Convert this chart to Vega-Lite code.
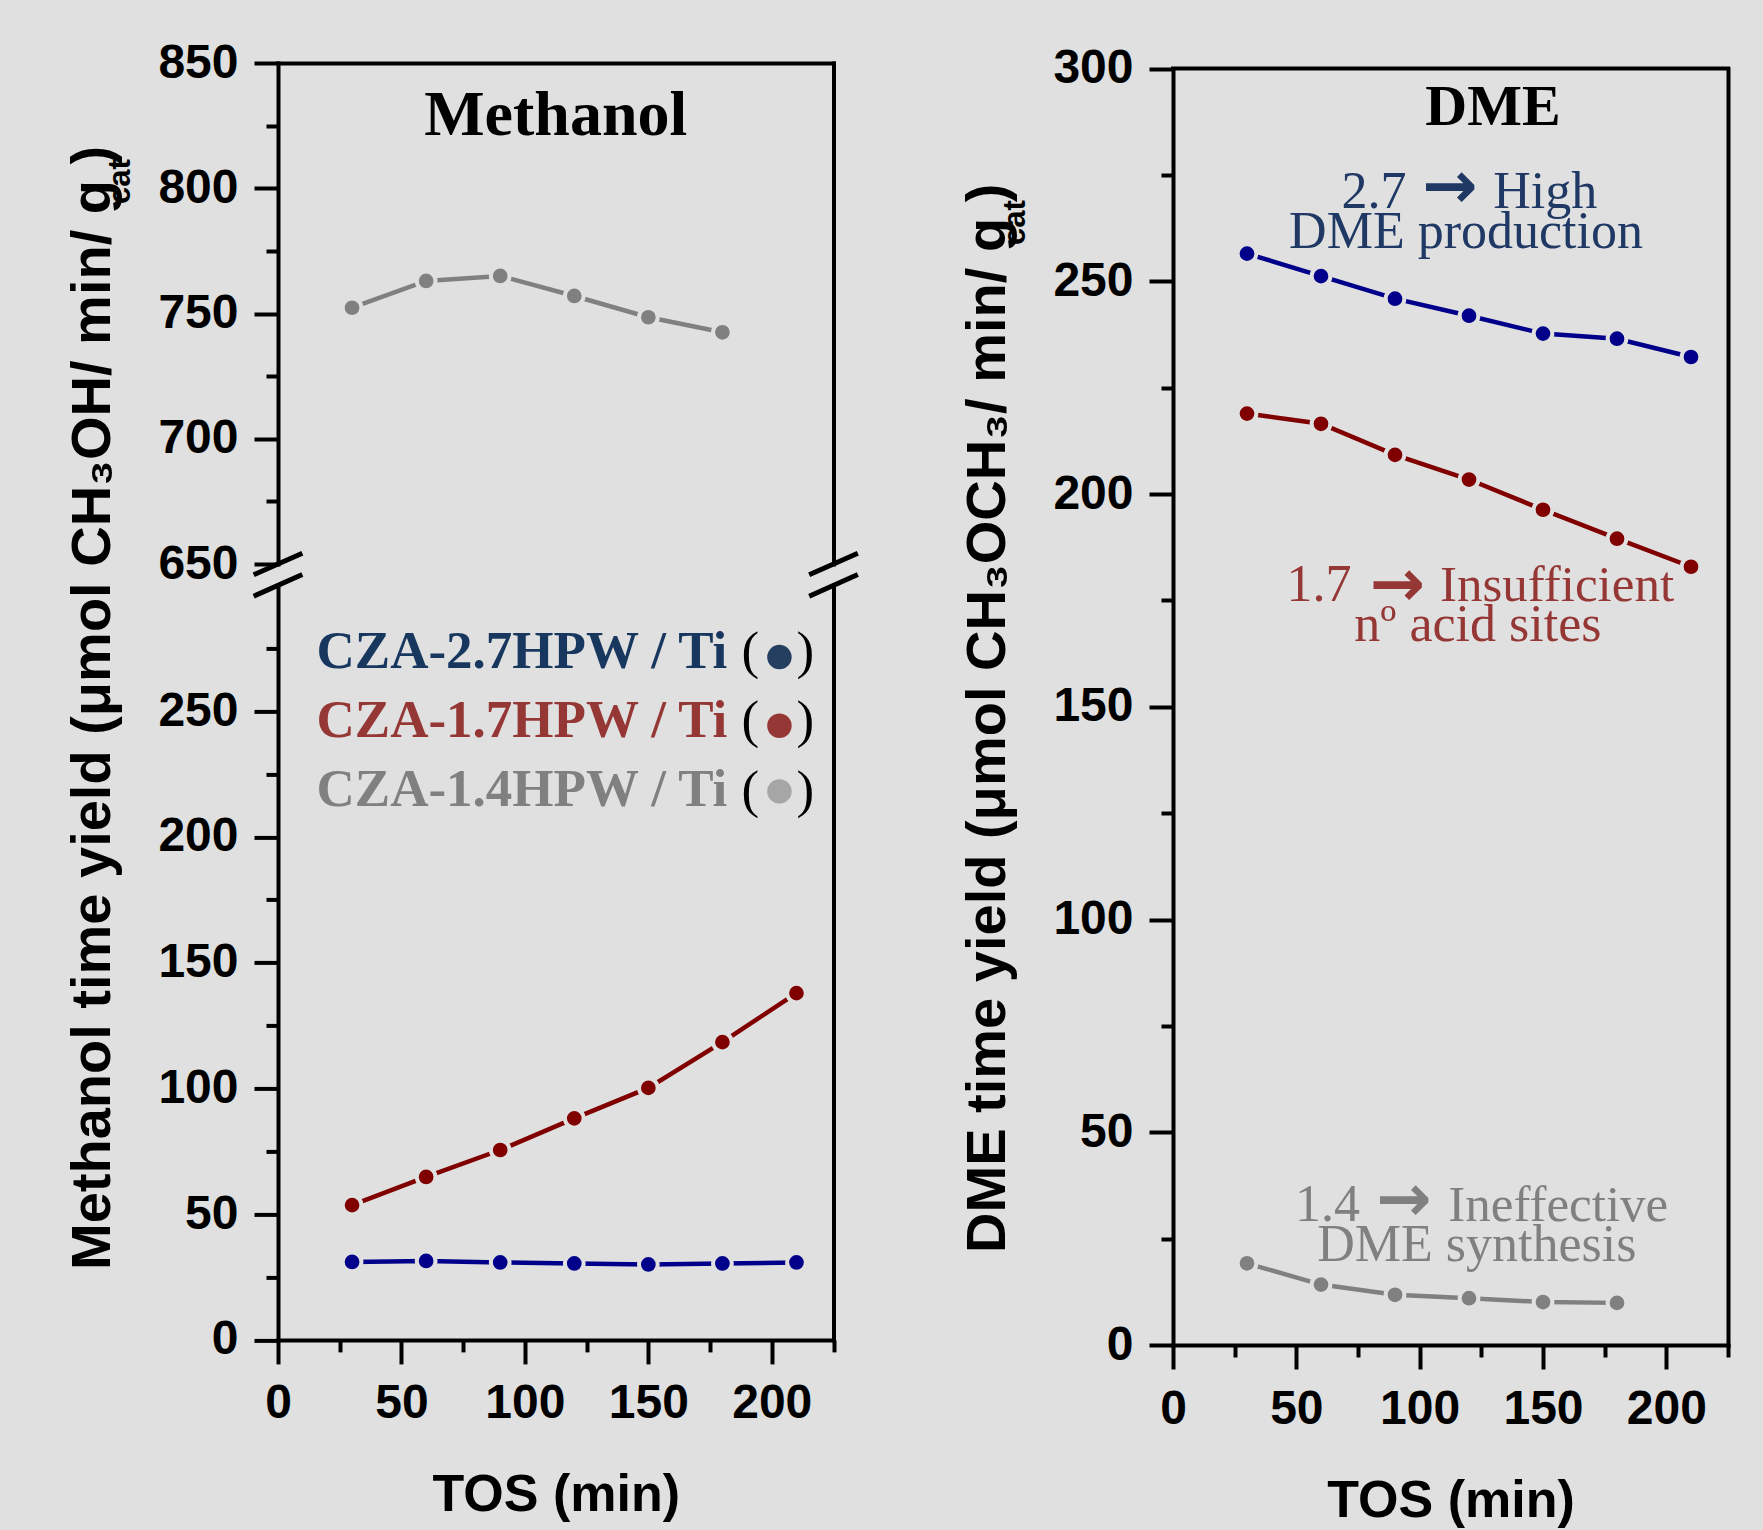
{
  "$schema": "https://vega.github.io/schema/vega-lite/v6.json",
  "background": "#e0e0e0",
  "padding": {"left": 63, "top": 39, "right": 40, "bottom": 20},
  "config": {
    "view": {"stroke": null},
    "axis": {
      "grid": false,
      "domainColor": "#000000",
      "domainWidth": 4,
      "domainCap": "square",
      "tickColor": "#000000",
      "tickWidth": 4,
      "labelFont": "Liberation Sans",
      "labelFontWeight": "bold",
      "labelFontSize": 48,
      "labelColor": "#000000",
      "labelPadding": 16,
      "labelFlush": false,
      "labelOverlap": false,
      "titleFont": "Liberation Sans",
      "titleFontWeight": "bold",
      "titleColor": "#000000",
      "titleLimit": 3000
    }
  },
  "datasets": {
    "methanol": [
      {"series": "CZA-2.7HPW/Ti", "tos": 30, "value": 31.0},
      {"series": "CZA-2.7HPW/Ti", "tos": 60, "value": 31.4},
      {"series": "CZA-2.7HPW/Ti", "tos": 90, "value": 30.8},
      {"series": "CZA-2.7HPW/Ti", "tos": 120, "value": 30.4},
      {"series": "CZA-2.7HPW/Ti", "tos": 150, "value": 30.0},
      {"series": "CZA-2.7HPW/Ti", "tos": 180, "value": 30.4},
      {"series": "CZA-2.7HPW/Ti", "tos": 210, "value": 30.8},
      {"series": "CZA-1.7HPW/Ti", "tos": 30, "value": 53.6},
      {"series": "CZA-1.7HPW/Ti", "tos": 60, "value": 64.8},
      {"series": "CZA-1.7HPW/Ti", "tos": 90, "value": 75.5},
      {"series": "CZA-1.7HPW/Ti", "tos": 120, "value": 88.1},
      {"series": "CZA-1.7HPW/Ti", "tos": 150, "value": 100.2},
      {"series": "CZA-1.7HPW/Ti", "tos": 180, "value": 118.4},
      {"series": "CZA-1.7HPW/Ti", "tos": 210, "value": 137.9},
      {"series": "CZA-1.4HPW/Ti", "tos": 30, "value": 752.3},
      {"series": "CZA-1.4HPW/Ti", "tos": 60, "value": 763.0},
      {"series": "CZA-1.4HPW/Ti", "tos": 90, "value": 765.0},
      {"series": "CZA-1.4HPW/Ti", "tos": 120, "value": 757.0},
      {"series": "CZA-1.4HPW/Ti", "tos": 150, "value": 748.5},
      {"series": "CZA-1.4HPW/Ti", "tos": 180, "value": 742.5}
    ],
    "dme": [
      {"series": "CZA-2.7HPW/Ti", "tos": 30, "value": 256.5},
      {"series": "CZA-2.7HPW/Ti", "tos": 60, "value": 251.2},
      {"series": "CZA-2.7HPW/Ti", "tos": 90, "value": 245.9},
      {"series": "CZA-2.7HPW/Ti", "tos": 120, "value": 241.9},
      {"series": "CZA-2.7HPW/Ti", "tos": 150, "value": 237.7},
      {"series": "CZA-2.7HPW/Ti", "tos": 180, "value": 236.5},
      {"series": "CZA-2.7HPW/Ti", "tos": 210, "value": 232.2},
      {"series": "CZA-1.7HPW/Ti", "tos": 30, "value": 218.9},
      {"series": "CZA-1.7HPW/Ti", "tos": 60, "value": 216.5},
      {"series": "CZA-1.7HPW/Ti", "tos": 90, "value": 209.2},
      {"series": "CZA-1.7HPW/Ti", "tos": 120, "value": 203.4},
      {"series": "CZA-1.7HPW/Ti", "tos": 150, "value": 196.3},
      {"series": "CZA-1.7HPW/Ti", "tos": 180, "value": 189.5},
      {"series": "CZA-1.7HPW/Ti", "tos": 210, "value": 182.9},
      {"series": "CZA-1.4HPW/Ti", "tos": 30, "value": 19.2},
      {"series": "CZA-1.4HPW/Ti", "tos": 60, "value": 14.2},
      {"series": "CZA-1.4HPW/Ti", "tos": 90, "value": 11.8},
      {"series": "CZA-1.4HPW/Ti", "tos": 120, "value": 11.0},
      {"series": "CZA-1.4HPW/Ti", "tos": 150, "value": 10.1},
      {"series": "CZA-1.4HPW/Ti", "tos": 180, "value": 9.9}
    ]
  },
  "spacing": 97,
  "hconcat": [
    {
      "spacing": 21.4,
      "bounds": "flush",
      "vconcat": [
        {
          "width": 555.5,
          "height": 501,
          "resolve": {"axis": {"x": "independent", "y": "independent"}},
          "layer": [
            {
              "data": {"name": "methanol"},
              "transform": [{"filter": "datum.series === 'CZA-1.4HPW/Ti'"}],
              "mark": {"type": "line", "strokeWidth": 4.5},
              "encoding": {
                "x": {"field": "tos", "type": "quantitative", "scale": {"domain": [0, 225], "nice": false, "zero": false}, "axis": null},
                "y": {"field": "value", "type": "quantitative", "scale": {"domain": [650, 850], "nice": false, "zero": false},
                      "axis": {"orient": "left", "values": [650, 700, 750, 800, 850], "tickSize": 24, "title": null}},
                "color": {"field": "series", "type": "nominal", "legend": null,
                          "scale": {"domain": ["CZA-2.7HPW/Ti", "CZA-1.7HPW/Ti", "CZA-1.4HPW/Ti"], "range": ["#00008b", "#800000", "#808080"]}}
              }
            },
            {
              "data": {"name": "methanol"},
              "transform": [{"filter": "datum.series === 'CZA-1.4HPW/Ti'"}],
              "mark": {"type": "point", "filled": true, "size": 350, "opacity": 1, "stroke": "#e0e0e0", "strokeWidth": 4},
              "encoding": {
                "x": {"field": "tos", "type": "quantitative", "axis": null},
                "y": {"field": "value", "type": "quantitative", "axis": null},
                "color": {"field": "series", "type": "nominal", "legend": null,
                          "scale": {"domain": ["CZA-2.7HPW/Ti", "CZA-1.7HPW/Ti", "CZA-1.4HPW/Ti"], "range": ["#00008b", "#800000", "#808080"]}}
              }
            },
            {
              "data": {"values": [{}]},
              "mark": {"type": "text", "text": ""},
              "encoding": {
                "x": {"datum": 0, "type": "quantitative",
                      "axis": {"orient": "top", "ticks": false, "labels": false, "title": "cat", "titleX": -149, "titleY": 118, "titleAngle": 270, "titleAlign": "center", "titleBaseline": "alphabetic", "titleFontSize": 31}},
                "y": {"datum": 700, "type": "quantitative", "axis": {"orient": "right", "ticks": false, "labels": false, "title": null}}
              }
            },
            {
              "data": {"values": [{}]},
              "mark": {"type": "text", "text": ""},
              "encoding": {
                "x": {"datum": 0, "type": "quantitative", "axis": null},
                "y": {"datum": 700, "type": "quantitative", "axis": {"orient": "left", "values": [675, 725, 775, 825], "tickSize": 12, "labels": false, "domain": false, "title": null}}
              }
            },
            {
              "data": {"values": [{}]},
              "mark": {"type": "rule", "color": "#000000", "strokeWidth": 5, "strokeCap": "butt"},
              "encoding": {
                "x": {"datum": -9.85, "type": "quantitative", "axis": null},
                "x2": {"datum": 9.85},
                "y": {"datum": 645.69, "type": "quantitative", "axis": null},
                "y2": {"datum": 654.31}
              }
            },
            {
              "data": {"values": [{}]},
              "mark": {"type": "rule", "color": "#000000", "strokeWidth": 5, "strokeCap": "butt"},
              "encoding": {
                "x": {"datum": 215.15, "type": "quantitative", "axis": null},
                "x2": {"datum": 234.85},
                "y": {"datum": 645.69, "type": "quantitative", "axis": null},
                "y2": {"datum": 654.31}
              }
            },
            {
              "data": {"values": [{}]},
              "mark": {"type": "text", "text": "Methanol", "font": "Liberation Serif", "fontWeight": "bold", "fontSize": 64, "align": "center", "baseline": "alphabetic", "color": "#000000"},
              "encoding": {
                "x": {"datum": 112.5, "type": "quantitative", "axis": null},
                "y": {"datum": 821.2, "type": "quantitative", "axis": null}
              }
            }
          ]
        },
        {
          "width": 555.5,
          "height": 754.5,
          "resolve": {"axis": {"x": "independent", "y": "independent"}},
          "layer": [
            {
              "data": {"name": "methanol"},
              "transform": [{"filter": "datum.series !== 'CZA-1.4HPW/Ti'"}],
              "mark": {"type": "line", "strokeWidth": 4.5},
              "encoding": {
                "x": {"field": "tos", "type": "quantitative", "scale": {"domain": [0, 225], "nice": false, "zero": false},
                      "axis": {"orient": "bottom", "values": [0, 50, 100, 150, 200], "tickSize": 24, "title": "TOS (min)", "titleFontSize": 52, "titleY": 171, "titleBaseline": "alphabetic"}},
                "y": {"field": "value", "type": "quantitative", "scale": {"domain": [0, 300], "nice": false, "zero": false},
                      "axis": {"orient": "left", "values": [0, 50, 100, 150, 200, 250], "tickSize": 24,
                               "title": "Methanol time yield (μmol CH₃OH/ min/ g   )", "titleFontSize": 56, "titleX": -169, "titleY": 122, "titleAngle": 270, "titleAlign": "center", "titleBaseline": "alphabetic"}},
                "color": {"field": "series", "type": "nominal", "legend": null,
                          "scale": {"domain": ["CZA-2.7HPW/Ti", "CZA-1.7HPW/Ti", "CZA-1.4HPW/Ti"], "range": ["#00008b", "#800000", "#808080"]}}
              }
            },
            {
              "data": {"name": "methanol"},
              "transform": [{"filter": "datum.series !== 'CZA-1.4HPW/Ti'"}],
              "mark": {"type": "point", "filled": true, "size": 350, "opacity": 1, "stroke": "#e0e0e0", "strokeWidth": 4},
              "encoding": {
                "x": {"field": "tos", "type": "quantitative", "axis": null},
                "y": {"field": "value", "type": "quantitative", "axis": null},
                "color": {"field": "series", "type": "nominal", "legend": null,
                          "scale": {"domain": ["CZA-2.7HPW/Ti", "CZA-1.7HPW/Ti", "CZA-1.4HPW/Ti"], "range": ["#00008b", "#800000", "#808080"]}}
              }
            },
            {
              "data": {"values": [{}]},
              "mark": {"type": "text", "text": ""},
              "encoding": {
                "x": {"datum": 0, "type": "quantitative", "axis": {"orient": "bottom", "values": [25, 75, 125, 175, 225], "tickSize": 12, "labels": false, "domain": false, "title": null}},
                "y": {"datum": 0, "type": "quantitative", "axis": {"orient": "left", "values": [25, 75, 125, 175, 225, 275], "tickSize": 12, "labels": false, "domain": false, "title": null}}
              }
            },
            {
              "data": {"values": [{}]},
              "mark": {"type": "text", "text": ""},
              "encoding": {
                "x": {"datum": 0, "type": "quantitative", "axis": null},
                "y": {"datum": 0, "type": "quantitative", "axis": {"orient": "right", "ticks": false, "labels": false, "title": null}}
              }
            },
            {
              "data": {"values": [{}]},
              "mark": {"type": "rule", "color": "#000000", "strokeWidth": 5, "strokeCap": "butt"},
              "encoding": {
                "x": {"datum": -9.85, "type": "quantitative", "axis": null},
                "x2": {"datum": 9.85},
                "y": {"datum": 295.7, "type": "quantitative", "axis": null},
                "y2": {"datum": 304.3}
              }
            },
            {
              "data": {"values": [{}]},
              "mark": {"type": "rule", "color": "#000000", "strokeWidth": 5, "strokeCap": "butt"},
              "encoding": {
                "x": {"datum": 215.15, "type": "quantitative", "axis": null},
                "x2": {"datum": 234.85},
                "y": {"datum": 295.7, "type": "quantitative", "axis": null},
                "y2": {"datum": 304.3}
              }
            },
            {
              "data": {"values": [{}]},
              "mark": {"type": "text", "text": "CZA-2.7HPW / Ti", "font": "Liberation Serif", "fontWeight": "bold", "fontSize": 53, "align": "right", "baseline": "alphabetic", "color": "#17375e"},
              "encoding": {
                "x": {"datum": 182, "type": "quantitative", "axis": null},
                "y": {"datum": 267.1, "type": "quantitative", "axis": null}
              }
            },
            {
              "data": {"values": [{}]},
              "mark": {"type": "text", "text": "CZA-1.7HPW / Ti", "font": "Liberation Serif", "fontWeight": "bold", "fontSize": 53, "align": "right", "baseline": "alphabetic", "color": "#953735"},
              "encoding": {
                "x": {"datum": 182, "type": "quantitative", "axis": null},
                "y": {"datum": 239.6, "type": "quantitative", "axis": null}
              }
            },
            {
              "data": {"values": [{}]},
              "mark": {"type": "text", "text": "CZA-1.4HPW / Ti", "font": "Liberation Serif", "fontWeight": "bold", "fontSize": 53, "align": "right", "baseline": "alphabetic", "color": "#808080"},
              "encoding": {
                "x": {"datum": 182, "type": "quantitative", "axis": null},
                "y": {"datum": 212.1, "type": "quantitative", "axis": null}
              }
            },
            {
              "data": {"values": [{}]},
              "mark": {"type": "text", "text": ["(", "(", "("], "lineHeight": 69.2, "font": "Liberation Serif", "fontSize": 53, "align": "center", "baseline": "alphabetic", "color": "#000000"},
              "encoding": {
                "x": {"datum": 191.3, "type": "quantitative", "axis": null},
                "y": {"datum": 267.1, "type": "quantitative", "axis": null}
              }
            },
            {
              "data": {"values": [{}]},
              "mark": {"type": "text", "text": [")", ")", ")"], "lineHeight": 69.2, "font": "Liberation Serif", "fontSize": 53, "align": "center", "baseline": "alphabetic", "color": "#000000"},
              "encoding": {
                "x": {"datum": 213.6, "type": "quantitative", "axis": null},
                "y": {"datum": 267.1, "type": "quantitative", "axis": null}
              }
            },
            {
              "data": {"values": [{}]},
              "mark": {"type": "point", "filled": true, "size": 600, "opacity": 1, "strokeWidth": 0, "color": "#243f60"},
              "encoding": {
                "x": {"datum": 203.1, "type": "quantitative", "axis": null},
                "y": {"datum": 271.5, "type": "quantitative", "axis": null}
              }
            },
            {
              "data": {"values": [{}]},
              "mark": {"type": "point", "filled": true, "size": 600, "opacity": 1, "strokeWidth": 0, "color": "#953735"},
              "encoding": {
                "x": {"datum": 203.1, "type": "quantitative", "axis": null},
                "y": {"datum": 244.2, "type": "quantitative", "axis": null}
              }
            },
            {
              "data": {"values": [{}]},
              "mark": {"type": "point", "filled": true, "size": 600, "opacity": 1, "strokeWidth": 0, "color": "#a6a6a6"},
              "encoding": {
                "x": {"datum": 203.1, "type": "quantitative", "axis": null},
                "y": {"datum": 218.1, "type": "quantitative", "axis": null}
              }
            }
          ]
        }
      ]
    },
    {
      "width": 555,
      "height": 1282,
      "resolve": {"axis": {"x": "independent", "y": "independent"}},
      "layer": [
        {
          "data": {"name": "dme"},
          "mark": {"type": "line", "strokeWidth": 4.5},
          "encoding": {
            "x": {"field": "tos", "type": "quantitative", "scale": {"domain": [0, 225], "nice": false, "zero": false},
                  "axis": {"orient": "bottom", "values": [0, 50, 100, 150, 200], "tickSize": 24, "title": "TOS (min)", "titleFontSize": 52, "titleY": 171, "titleBaseline": "alphabetic"}},
            "y": {"field": "value", "type": "quantitative", "scale": {"domain": [0, 300], "range": [1282, 5.5], "nice": false, "zero": false},
                  "axis": {"orient": "left", "values": [0, 50, 100, 150, 200, 250, 300], "tickSize": 24,
                           "title": "DME time yield (μmol CH₃OCH₃/ min/ g   )", "titleFontSize": 56, "titleX": -169, "titleY": 654.8, "titleAngle": 270, "titleAlign": "center", "titleBaseline": "alphabetic"}},
            "color": {"field": "series", "type": "nominal", "legend": null,
                      "scale": {"domain": ["CZA-2.7HPW/Ti", "CZA-1.7HPW/Ti", "CZA-1.4HPW/Ti"], "range": ["#00008b", "#800000", "#808080"]}}
          }
        },
        {
          "data": {"name": "dme"},
          "mark": {"type": "point", "filled": true, "size": 350, "opacity": 1, "stroke": "#e0e0e0", "strokeWidth": 4},
          "encoding": {
            "x": {"field": "tos", "type": "quantitative", "axis": null},
            "y": {"field": "value", "type": "quantitative", "axis": null},
            "color": {"field": "series", "type": "nominal", "legend": null,
                      "scale": {"domain": ["CZA-2.7HPW/Ti", "CZA-1.7HPW/Ti", "CZA-1.4HPW/Ti"], "range": ["#00008b", "#800000", "#808080"]}}
          }
        },
        {
          "data": {"values": [{}]},
          "mark": {"type": "text", "text": ""},
          "encoding": {
            "x": {"datum": 0, "type": "quantitative", "axis": {"orient": "bottom", "values": [25, 75, 125, 175, 225], "tickSize": 12, "labels": false, "domain": false, "title": null}},
            "y": {"datum": 0, "type": "quantitative", "axis": {"orient": "left", "values": [25, 75, 125, 175, 225, 275], "tickSize": 12, "labels": false, "domain": false, "title": null}}
          }
        },
        {
          "data": {"values": [{}]},
          "mark": {"type": "text", "text": ""},
          "encoding": {
            "x": {"datum": 0, "type": "quantitative", "axis": null},
            "y": {"datum": 0, "type": "quantitative",
                  "axis": {"orient": "right", "ticks": false, "labels": false, "title": "cat", "titleX": -704, "titleY": 159, "titleAngle": 270, "titleAlign": "center", "titleBaseline": "alphabetic", "titleFontSize": 31}}
          }
        },
        {
          "data": {"values": [{}]},
          "mark": {"type": "rule", "color": "#000000", "strokeWidth": 4, "strokeCap": "square"},
          "encoding": {
            "x": {"datum": 0, "type": "quantitative", "axis": null},
            "x2": {"datum": 225},
            "y": {"datum": 300, "type": "quantitative", "axis": null}
          }
        },
        {
          "data": {"values": [{}]},
          "mark": {"type": "text", "text": "DME", "font": "Liberation Serif", "fontWeight": "bold", "fontSize": 58, "align": "center", "baseline": "alphabetic", "color": "#000000"},
          "encoding": {
            "x": {"datum": 129.7, "type": "quantitative", "axis": null},
            "y": {"datum": 286.7, "type": "quantitative", "axis": null}
          }
        },
        {
          "data": {"values": [{}]},
          "mark": {"type": "text", "text": "2.7", "font": "Liberation Serif", "fontSize": 52, "align": "right", "baseline": "alphabetic", "color": "#1f3864"},
          "encoding": {
            "x": {"datum": 94.7, "type": "quantitative", "axis": null},
            "y": {"datum": 267.3, "type": "quantitative", "axis": null}
          }
        },
        {
          "data": {"values": [{}]},
          "mark": {"type": "text", "text": "→", "font": "DejaVu Sans", "fontWeight": "bold", "fontSize": 66, "align": "center", "baseline": "middle", "color": "#1f3864"},
          "encoding": {
            "x": {"datum": 112.3, "type": "quantitative", "axis": null},
            "y": {"datum": 271.9, "type": "quantitative", "axis": null}
          }
        },
        {
          "data": {"values": [{}]},
          "mark": {"type": "text", "text": "High", "font": "Liberation Serif", "fontSize": 52, "align": "left", "baseline": "alphabetic", "color": "#1f3864"},
          "encoding": {
            "x": {"datum": 129.8, "type": "quantitative", "axis": null},
            "y": {"datum": 267.3, "type": "quantitative", "axis": null}
          }
        },
        {
          "data": {"values": [{}]},
          "mark": {"type": "text", "text": "DME production", "font": "Liberation Serif", "fontSize": 52, "align": "center", "baseline": "alphabetic", "color": "#1f3864"},
          "encoding": {
            "x": {"datum": 118.8, "type": "quantitative", "axis": null},
            "y": {"datum": 257.9, "type": "quantitative", "axis": null}
          }
        },
        {
          "data": {"values": [{}]},
          "mark": {"type": "text", "text": "1.7", "font": "Liberation Serif", "fontSize": 52, "align": "right", "baseline": "alphabetic", "color": "#953735"},
          "encoding": {
            "x": {"datum": 72.4, "type": "quantitative", "axis": null},
            "y": {"datum": 174.9, "type": "quantitative", "axis": null}
          }
        },
        {
          "data": {"values": [{}]},
          "mark": {"type": "text", "text": "→", "font": "DejaVu Sans", "fontWeight": "bold", "fontSize": 66, "align": "center", "baseline": "middle", "color": "#953735"},
          "encoding": {
            "x": {"datum": 91.0, "type": "quantitative", "axis": null},
            "y": {"datum": 178.4, "type": "quantitative", "axis": null}
          }
        },
        {
          "data": {"values": [{}]},
          "mark": {"type": "text", "text": "Insufficient", "font": "Liberation Serif", "fontSize": 51, "align": "left", "baseline": "alphabetic", "color": "#953735"},
          "encoding": {
            "x": {"datum": 108.2, "type": "quantitative", "axis": null},
            "y": {"datum": 174.9, "type": "quantitative", "axis": null}
          }
        },
        {
          "data": {"values": [{}]},
          "mark": {"type": "text", "text": "nº acid sites", "font": "Liberation Serif", "fontSize": 52, "align": "center", "baseline": "alphabetic", "color": "#953735"},
          "encoding": {
            "x": {"datum": 123.6, "type": "quantitative", "axis": null},
            "y": {"datum": 165.45, "type": "quantitative", "axis": null}
          }
        },
        {
          "data": {"values": [{}]},
          "mark": {"type": "text", "text": "1.4", "font": "Liberation Serif", "fontSize": 52, "align": "right", "baseline": "alphabetic", "color": "#808080"},
          "encoding": {
            "x": {"datum": 75.8, "type": "quantitative", "axis": null},
            "y": {"datum": 29.1, "type": "quantitative", "axis": null}
          }
        },
        {
          "data": {"values": [{}]},
          "mark": {"type": "text", "text": "→", "font": "DejaVu Sans", "fontWeight": "bold", "fontSize": 66, "align": "center", "baseline": "middle", "color": "#808080"},
          "encoding": {
            "x": {"datum": 93.6, "type": "quantitative", "axis": null},
            "y": {"datum": 33.8, "type": "quantitative", "axis": null}
          }
        },
        {
          "data": {"values": [{}]},
          "mark": {"type": "text", "text": "Ineffective", "font": "Liberation Serif", "fontSize": 51, "align": "left", "baseline": "alphabetic", "color": "#808080"},
          "encoding": {
            "x": {"datum": 111.6, "type": "quantitative", "axis": null},
            "y": {"datum": 29.1, "type": "quantitative", "axis": null}
          }
        },
        {
          "data": {"values": [{}]},
          "mark": {"type": "text", "text": "DME synthesis", "font": "Liberation Serif", "fontSize": 52, "align": "center", "baseline": "alphabetic", "color": "#808080"},
          "encoding": {
            "x": {"datum": 123.2, "type": "quantitative", "axis": null},
            "y": {"datum": 19.75, "type": "quantitative", "axis": null}
          }
        }
      ]
    }
  ]
}
